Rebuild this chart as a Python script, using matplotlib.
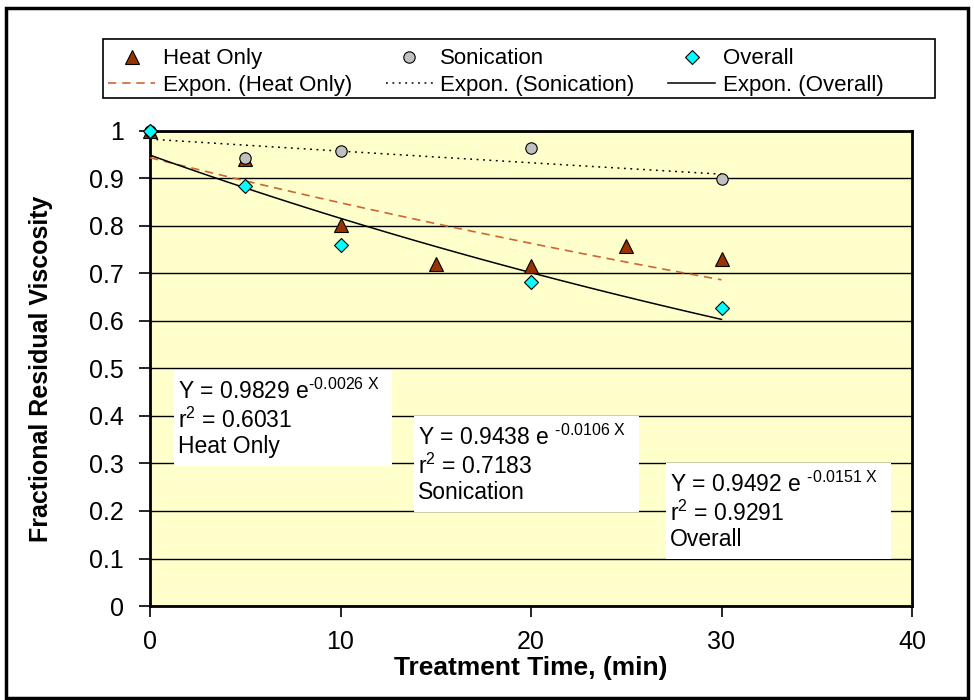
import numpy as np
import matplotlib.pyplot as plt
from matplotlib.patches import Rectangle

plt.rcParams['font.family'] = ['Liberation Sans', 'DejaVu Sans']
plt.rcParams['mathtext.fontset'] = 'custom'
plt.rcParams['mathtext.rm'] = 'Liberation Sans'
plt.rcParams['mathtext.it'] = 'Liberation Sans'

# data
heat_t = [0, 5, 10, 15, 20, 25, 30]
heat_v = [1.0, 0.94, 0.803, 0.72, 0.715, 0.758, 0.731]
son_t = [0, 5, 10, 20, 30]
son_v = [1.0, 0.943, 0.957, 0.965, 0.898]
all_t = [0, 5, 10, 20, 30]
all_v = [1.0, 0.885, 0.76, 0.682, 0.627]

# exponential trendlines (as drawn in the chart)
fit_heat = (0.9438, -0.0106)
fit_son = (0.9829, -0.0026)
fit_all = (0.9492, -0.0151)

fig = plt.figure(figsize=(9.74, 7.0), dpi=100)
ax = fig.add_axes([150 / 974, 94 / 700, 762 / 974, 475 / 700])
ax.set_facecolor('#FFFFCC')

tt = np.linspace(0, 30, 100)
l_heat, = ax.plot(tt, fit_heat[0] * np.exp(fit_heat[1] * tt), ls=(0, (5, 3.5)), color='#CC6633', lw=1.2, zorder=3)
l_son, = ax.plot(tt, fit_son[0] * np.exp(fit_son[1] * tt), ls=(0, (1.2, 3)), color='black', lw=1.1, zorder=3)
l_all, = ax.plot(tt, fit_all[0] * np.exp(fit_all[1] * tt), ls='-', color='black', lw=1.1, zorder=3)

m_heat, = ax.plot(heat_t, heat_v, '^', ms=9.5, mfc='#993300', mec='black', mew=0.8, ls='None', zorder=4, clip_on=False)
m_son, = ax.plot(son_t, son_v, 'o', ms=8.2, mfc='#C0C0C0', mec='black', mew=0.8, ls='None', zorder=5, clip_on=False)
m_all, = ax.plot(all_t, all_v, 'D', ms=6.8, mfc='#00FFFF', mec='black', mew=0.8, ls='None', zorder=6, clip_on=False)

ax.set_xlim(0, 40)
ax.set_ylim(0, 1)
ax.set_xticks([0, 10, 20, 30, 40])
ax.set_yticks(np.arange(0, 1.01, 0.1))
ax.set_yticklabels(['0', '0.1', '0.2', '0.3', '0.4', '0.5', '0.6', '0.7', '0.8', '0.9', '1'])
ax.yaxis.grid(True, color='black', lw=1.0)
ax.set_axisbelow(True)
ax.tick_params(labelsize=18, length=8, width=1.2, pad=9)
ax.tick_params(axis='y', pad=11)
for s in ax.spines.values():
    s.set_linewidth(2)

ax.set_xlabel('Treatment Time, (min)', fontsize=19, fontweight='bold', labelpad=2)
ax.set_ylabel('Fractional Residual Viscosity', fontsize=18, fontweight='bold')
ax.yaxis.set_label_coords(-97 / 762, 0.5)

# white equation boxes
hy = '\u2010'
boxes = [
    ((1.26, 0.295), 11.44, 0.202, ['Y = 0.9829 e$^{' + hy + '0.0026\\ X}$', 'r$^{2}$ = 0.6031', 'Heat Only']),
    ((13.86, 0.198), 11.81, 0.202, ['Y = 0.9438 e $^{' + hy + '0.0106\\ X}$', 'r$^{2}$ = 0.7183', 'Sonication']),
    ((27.09, 0.099), 11.81, 0.202, ['Y = 0.9492 e $^{' + hy + '0.0151\\ X}$', 'r$^{2}$ = 0.9291', 'Overall']),
]
line_off = [0.044, 0.105, 0.162]
for (x0, y0), w, h, lines in boxes:
    ax.add_patch(Rectangle((x0, y0), w, h, facecolor='white', edgecolor='none', zorder=7))
    for off, txt in zip(line_off, lines):
        ax.text(x0 + 0.2, y0 + h - off, txt, fontsize=16.5, va='center', ha='left', zorder=8)

handles = [m_heat, l_heat, m_son, l_son, m_all, l_all]
labels = ['Heat Only', 'Expon. (Heat Only)', 'Sonication', 'Expon. (Sonication)', 'Overall', 'Expon. (Overall)']
leg = fig.legend(handles, labels, ncol=3, loc='upper left', bbox_to_anchor=(104 / 974, 1 - 44 / 700),
                 fontsize=16, frameon=False, handlelength=2.1, handletextpad=0.35, columnspacing=1.52,
                 borderpad=0.2, labelspacing=0.25, borderaxespad=0)
# legend frame drawn to the chart's full legend width
fig.add_artist(Rectangle((103 / 974, 1 - 98 / 700), 832 / 974, 59 / 700, transform=fig.transFigure,
                         fill=False, edgecolor='black', lw=1.2))

# outer chart border
fig.add_artist(Rectangle((6 / 974, 2 / 700), 962 / 974, 690 / 700, transform=fig.transFigure, fill=False,
                         edgecolor='black', lw=2.5))

fig.savefig('out.png', dpi=100)
